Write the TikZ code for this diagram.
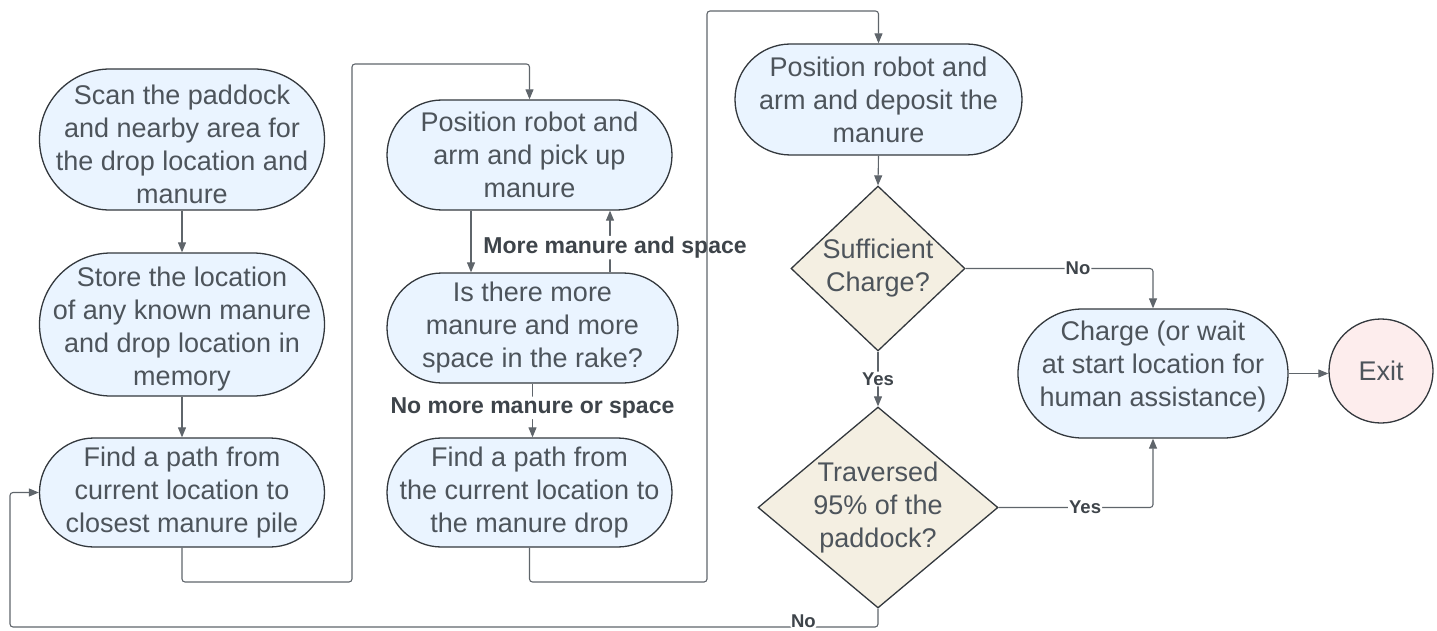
\documentclass[tikz,border=0pt]{standalone}
\usepackage{fontspec}
\setmainfont{Liberation Sans}
\usetikzlibrary{shapes.geometric,arrows.meta}
\definecolor{boxfill}{HTML}{EAF4FF}
\definecolor{decfill}{HTML}{F4EFE2}
\definecolor{exitfill}{HTML}{FDEDED}
\definecolor{edgecol}{HTML}{33383D}
\definecolor{txt}{HTML}{4D545B}
\definecolor{labtxt}{HTML}{3E444A}
\definecolor{conncol}{HTML}{5F656B}
\begin{document}
\begin{tikzpicture}[x=1pt,y=-1pt,
  bodyfont/.style={font=\fontsize{27}{33}\selectfont},
  stad/.style 2 args={rectangle, draw=edgecol, line width=1.3pt, fill=boxfill, text=txt,
    align=center, bodyfont, inner sep=0pt, minimum width=#1, minimum height=#2, rounded corners=#2/2},
  dec/.style 2 args={diamond, draw=edgecol, line width=1.3pt, fill=decfill, inner sep=0pt,
    minimum width=#1, minimum height=#2},
  dectext/.style={text=txt, align=center, bodyfont, inner sep=0pt},
  exitnode/.style={circle, draw=edgecol, line width=1.3pt, fill=exitfill, text=txt, bodyfont,
    minimum size=104pt, inner sep=0pt},
  conn/.style={draw=conncol, line width=1.1pt, rounded corners=3pt, -{Triangle[length=10pt,width=8pt]}},
  biglab/.style={fill=white, text=labtxt, font=\bfseries\fontsize{23}{27}\selectfont, inner sep=1pt},
  smalllab/.style={fill=white, text=labtxt, font=\bfseries\fontsize{18.5}{22}\selectfont, inner sep=1pt},
]
\useasboundingbox (0,0) rectangle (1437,631);

% nodes
\node[stad={285pt}{141pt}] (A) at (182,139.5) {\rule{0pt}{30pt}Scan the paddock\\and nearby area for\\the drop location and\\manure};
\node[stad={285pt}{143pt}] (B) at (182,324.5) {\rule{0pt}{28pt}Store the location\\of any known manure\\and drop location in\\memory};
\node[stad={285pt}{109pt}] (C) at (182,492.5) {Find a path from\\current location to\\closest manure pile};
\node[stad={285pt}{110pt}] (D) at (529.5,155) {Position robot and\\arm and pick up\\manure};
\node[stad={291pt}{110pt}] (E) at (532.5,328) {Is there more\\manure and more\\space in the rake?};
\node[stad={285pt}{109pt}] (F) at (529.5,492.5) {Find a path from\\the current location to\\the manure drop};
\node[stad={287pt}{111pt}] (G) at (878.5,99.5) {Position robot and\\arm and deposit the\\manure};
\node[dec={174pt}{165pt}] (H) at (878,268.5) {};
\node[dectext] (Ht) at (H) {Sufficient\\Charge?};
\node[dec={240pt}{201pt}] (I) at (878,507.5) {};
\node[dectext] (It) at (I) {Traversed\\95\% of the\\paddock?};
\node[stad={270pt}{129pt}] (J) at (1153,373.5) {Charge (or wait\\at start location for\\human assistance)\rule[-19pt]{0pt}{0pt}};
\node[exitnode] (K) at (1381,371) {Exit};

% helper coordinates
\coordinate (cd1) at (352,582);
\coordinate (cd2) at (352,64);
\coordinate (fg1) at (707,582);
\coordinate (fg2) at (707,11);
\coordinate (ic1) at (10,627);
\coordinate (de) at (471,0);
\coordinate (ed) at (610,0);

% connectors
\draw[conn] (A.south) -- (B.north);
\draw[conn] (B.south) -- (C.north);
\draw[conn] (C.south) |- (cd1) -- (cd2) -| (D.north);
\draw[conn] (D.south -| de) -- (E.north -| de);
\draw[conn] (E.north -| ed) -- node[biglab, pos=0.4, xshift=5pt] {More manure and space} (D.south -| ed);
\draw[conn] (E.south) -- node[biglab, pos=0.45] {No more manure or space} (E.south |- F.north);
\draw[conn] (F.south) |- (fg1) -- (fg2) -| (G.north);
\draw[conn] (G.south) -- (H.north);
\draw[conn] (H.east) -| node[smalllab, pos=0.3] {No} (J.north);
\draw[conn] (H.south) -- node[smalllab] {Yes} (I.north);
\draw[conn] (I.east) -| node[smalllab, pos=0.28] {Yes} (J.south);
\draw[conn] (I.south) |- node[smalllab, pos=0.543, yshift=6pt] {No} (ic1) |- (C.west);
\draw[conn] (J.east) -- (J.east -| K.west);
\end{tikzpicture}
\end{document}
